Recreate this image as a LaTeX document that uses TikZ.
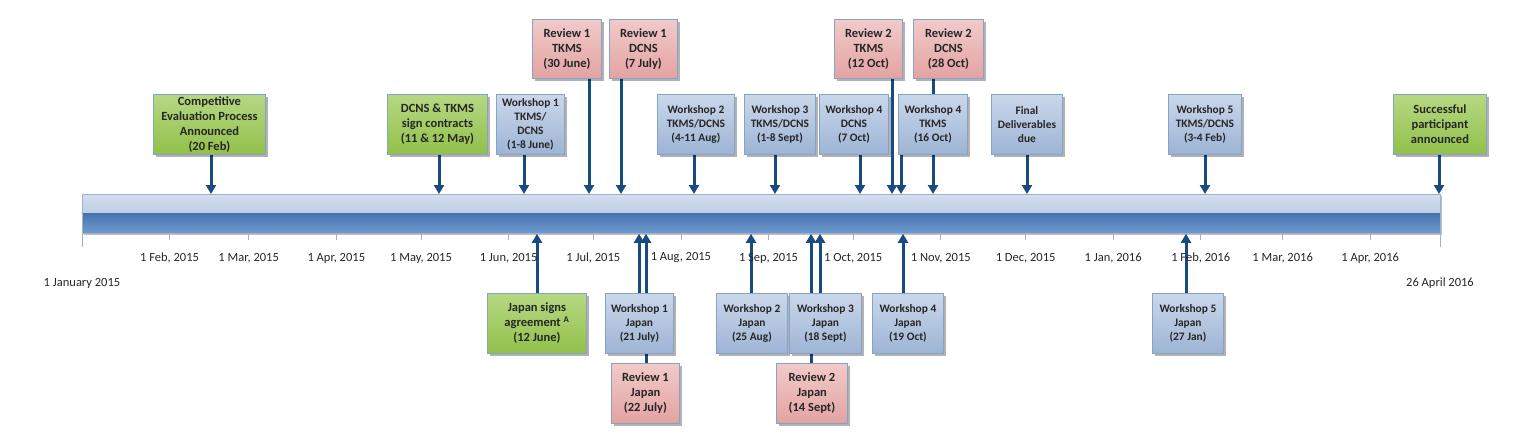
\documentclass[tikz,border=0pt]{standalone}
\usepackage{fontspec}
\setmainfont{Carlito}
\usetikzlibrary{arrows.meta,shadows}
\definecolor{arrowblue}{HTML}{1A4B80}
\definecolor{boxborder}{HTML}{86A2C6}
\definecolor{greentop}{HTML}{B6D883}
\definecolor{greenbot}{HTML}{92C04A}
\definecolor{bluetop}{HTML}{CAD7EA}
\definecolor{bluebot}{HTML}{9DB4D5}
\definecolor{pinktop}{HTML}{F1CAC9}
\definecolor{pinkbot}{HTML}{E2A3A2}
\definecolor{barlt}{HTML}{D3DEED}
\definecolor{barlb}{HTML}{A6BBD9}
\definecolor{bardt}{HTML}{4875B1}
\definecolor{bardb}{HTML}{709ACF}
\definecolor{barborder}{HTML}{9DB2CD}
\definecolor{tickc}{HTML}{9FB3CC}
\definecolor{textc}{HTML}{262626}
\pgfdeclarelayer{back}
\pgfsetlayers{back,main}
\begin{document}
\begin{tikzpicture}[x=1pt,y=-1pt,
  basebox/.style={draw=boxborder, line width=0.9pt, inner sep=0pt, align=center,
    anchor=north west, text=textc,
    drop shadow={shadow xshift=2.5pt, shadow yshift=-2.5pt, opacity=0.3, fill=black}},
  bigtxt/.style={font=\bfseries\fontsize{12.5}{15}\selectfont},
  smalltxt/.style={font=\bfseries\fontsize{11.4}{13.8}\selectfont},
  gbox/.style={basebox, bigtxt, top color=greentop, bottom color=greenbot},
  bbox/.style={basebox, smalltxt, top color=bluetop, bottom color=bluebot},
  pbox/.style={basebox, bigtxt, top color=pinktop, bottom color=pinkbot},
  wh/.style 2 args={minimum width=#1pt, minimum height=#2pt},
  arr/.style={draw=arrowblue, line width=3pt, -{Triangle[width=10pt,length=9pt]}},
  tick/.style={draw=tickc, line width=0.8pt},
  lab/.style={font=\fontsize{12.5}{15}\selectfont, text=textc, inner sep=0pt},
  barst/.style={draw=barborder, line width=0.8pt, fill=white, inner sep=0pt,
    anchor=north west,
    drop shadow={shadow xshift=2pt, shadow yshift=-2pt, opacity=0.25, fill=black},
    path picture={
      \shade[top color=barlt, bottom color=barlb]
        (path picture bounding box.north west) rectangle (path picture bounding box.east);
      \shade[top color=bardt, bottom color=bardb]
        (path picture bounding box.west) rectangle (path picture bounding box.south east);
    }}
]
\useasboundingbox (0,0) rectangle (1533,445);

% timeline bar
\node[barst, wh={1358}{39}] (bar) at (82,194) {};

% month ticks and labels
\foreach \x/\t [count=\i] in {
  169.6/{1 Feb, 2015}, 248.7/{1 Mar, 2015}, 336.3/{1 Apr, 2015}, 421.0/{1 May, 2015},
  508.6/{1 Jun, 2015}, 593.3/{1 Jul, 2015}, 680.9/{1 Aug, 2015}, 768.5/{1 Sep, 2015},
  853.2/{1 Oct, 2015}, 940.8/{1 Nov, 2015}, 1025.6/{1 Dec, 2015}, 1113.1/{1 Jan, 2016},
  1200.7/{1 Feb, 2016}, 1282.6/{1 Mar, 2016}, 1370.2/{1 Apr, 2016}} {
  \draw[tick] (\x,233) -- (\x,240);
  \node[lab] (m\i) at (\x,258) {\t};
}
\draw[tick] (82,233) -- (82,247);
\draw[tick] (1440,233) -- (1440,247);
\node[lab] (start) at (82,283) {1 January 2015};
\node[lab] (end) at (1440,283) {26 April 2016};

% top boxes, upper row
\node[pbox, wh={69}{59}] (r1t) at (532,19) {Review 1\\TKMS\\(30 June)};
\node[pbox, wh={68}{59}] (r1d) at (609,19) {Review 1\\DCNS\\(7 July)};
\node[pbox, wh={68}{59}] (r2t) at (834,19) {Review 2\\TKMS\\(12 Oct)};
\node[pbox, wh={70}{59}] (r2d) at (913,19) {Review 2\\DCNS\\(28 Oct)};

% top boxes, lower row
\node[gbox, wh={112}{60}] (comp) at (153,94) {Competitive\\Evaluation Process\\Announced\\(20 Feb)};
\node[gbox, wh={100}{60}] (contr) at (387,94) {DCNS \& TKMS\\sign contracts\\(11 \& 12 May)};
\node[bbox, wh={68}{60}] (w1) at (496,94) {Workshop 1\\TKMS/\\DCNS\\(1-8 June)};
\node[bbox, wh={77}{60}] (w2) at (657,94) {Workshop 2\\TKMS/DCNS\\(4-11 Aug)};
\node[bbox, wh={71}{60}] (w3) at (744,94) {Workshop 3\\TKMS/DCNS\\(1-8 Sept)};
\node[bbox, wh={69}{60}] (w4d) at (819,94) {Workshop 4\\DCNS\\(7 Oct)};
\node[bbox, wh={69}{60}] (w4t) at (898,94) {Workshop 4\\TKMS\\(16 Oct)};
\node[bbox, wh={71}{60}] (fin) at (991,94) {Final\\Deliverables\\due};
\node[bbox, wh={73}{60}] (w5) at (1168,94) {Workshop 5\\TKMS/DCNS\\(3-4 Feb)};
\node[gbox, wh={93}{60}] (succ) at (1393,94) {Successful\\participant\\announced};

% bottom boxes
\node[gbox, wh={99}{60}] (jap) at (487,293) {Japan signs\\agreement \textsuperscript{A}\\(12 June)};
\node[bbox, wh={68}{60}] (w1j) at (605,293) {Workshop 1\\Japan\\(21 July)};
\node[bbox, wh={71}{60}] (w2j) at (716,293) {Workshop 2\\Japan\\(25 Aug)};
\node[bbox, wh={72}{60}] (w3j) at (789,293) {Workshop 3\\Japan\\(18 Sept)};
\node[bbox, wh={71}{60}] (w4j) at (872,293) {Workshop 4\\Japan\\(19 Oct)};
\node[bbox, wh={71}{60}] (w5j) at (1152,293) {Workshop 5\\Japan\\(27 Jan)};
\node[pbox, wh={68}{60}] (r1j) at (611,363) {Review 1\\Japan\\(22 July)};
\node[pbox, wh={71}{60}] (r2j) at (776,363) {Review 2\\Japan\\(14 Sept)};

% connectors (behind boxes)
\begin{pgfonlayer}{back}
\foreach \n/\x in {comp/211, contr/439, w1/524, r1t/589, r1d/621, w2/694, w3/775,
  w4d/860, r2t/892, w4t/901, r2d/933, fin/1027, w5/1205, succ/1439}
  \draw[arr] (\x,0 |- \n.south) -- (\x,0 |- bar.north);
\foreach \n/\x in {jap/537, w1j/639, r1j/646, w2j/751, r2j/811, w3j/820, w4j/903, w5j/1186}
  \draw[arr] (\x,0 |- \n.north) -- (\x,0 |- bar.south);
\end{pgfonlayer}
\end{tikzpicture}
\end{document}
